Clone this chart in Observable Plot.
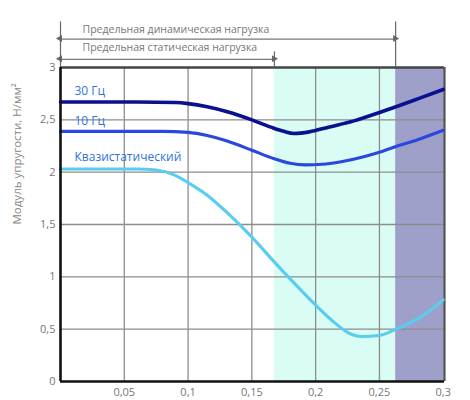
<!DOCTYPE html>
<html><head><meta charset="utf-8">
<script src="https://cdn.jsdelivr.net/npm/d3@7"></script>
<script src="https://cdn.jsdelivr.net/npm/@observablehq/plot@0.6"></script>
<style>body{margin:0;background:#fff;font-family:"Open Sans",sans-serif}</style>
</head><body><div id="chart"></div>
<script>
// data
const xQuasi = [0, 0.06, 0.075, 0.09, 0.1, 0.115, 0.13, 0.15, 0.167, 0.18, 0.2, 0.215, 0.225, 0.236, 0.25, 0.263, 0.283, 0.3];
const yQuasi = [2.03, 2.03, 2.02, 1.97, 1.90, 1.78, 1.62, 1.38, 1.15, 0.98, 0.73, 0.56, 0.47, 0.43, 0.44, 0.50, 0.62, 0.78];
const x10 = [0, 0.08, 0.1, 0.115, 0.13, 0.15, 0.167, 0.18, 0.192, 0.205, 0.22, 0.24, 0.25, 0.263, 0.28, 0.3];
const y10 = [2.39, 2.39, 2.38, 2.35, 2.30, 2.21, 2.13, 2.085, 2.07, 2.075, 2.10, 2.155, 2.19, 2.245, 2.31, 2.40];
const x30 = [0, 0.06, 0.09, 0.1, 0.115, 0.13, 0.15, 0.165, 0.175, 0.183, 0.195, 0.21, 0.23, 0.25, 0.263, 0.28, 0.3];
const y30 = [2.67, 2.67, 2.665, 2.655, 2.625, 2.58, 2.50, 2.43, 2.39, 2.37, 2.385, 2.43, 2.49, 2.57, 2.625, 2.70, 2.79];
const seriesNames = ["30 Гц", "10 Гц", "Квазистатический"];
const seriesColors = ["#0b1090", "#2b47de", "#58cdf0"];
const labelY = [2.77, 2.49, 2.145];
const staticLimit = 0.1677;
const dynamicLimit = 0.2627;
const xMax = 0.301;
const xTicks = [0.05, 0.1, 0.15, 0.2, 0.25, 0.3];
const yTicks = [0, 0.5, 1, 1.5, 2, 2.5, 3];
const annTexts = ["Предельная динамическая нагрузка", "Предельная статическая нагрузка"];
const yTitle = "Модуль упругости, Н/мм²";

// annotation layout levels (in y units above the frame)
const lvlTop = 3.435, lvlDynArrow = 3.272, lvlDynText = 3.36, lvlStatTop = 3.15, lvlStatArrow = 3.078, lvlStatText = 3.19;

const comma = d => String(d).replace(".", ",");
const toRows = (xs, ys, name) => xs.map((x, i) => ({x, y: ys[i], name}));
const lines = [toRows(x30, y30, seriesNames[0]), toRows(x10, y10, seriesNames[1]), toRows(xQuasi, yQuasi, seriesNames[2])];
const bands = [
  {x1: staticLimit, x2: dynamicLimit, fill: "#d9fcf5"},
  {x1: dynamicLimit, x2: xMax, fill: "#9fa0c9"}
];
const arrows = [
  {x1: 0, x2: dynamicLimit, y: lvlDynArrow},
  {x1: 0, x2: staticLimit, y: lvlStatArrow}
];
const heads = arrows.flatMap(a => [{x: a.x1, y: a.y, r: -90, dx: 3}, {x: a.x2, y: a.y, r: 90, dx: -3}]);
const vlines = [{x: 0, top: lvlTop}, {x: dynamicLimit, top: lvlTop}, {x: staticLimit, top: lvlStatTop}];
const texts = [{t: annTexts[0], y: lvlDynText}, {t: annTexts[1], y: lvlStatText}];

const chart = Plot.plot({
  width: 470, height: 400,
  marginLeft: 60, marginRight: 26, marginTop: 67, marginBottom: 19,
  style: {fontFamily: "Open Sans, sans-serif", fontSize: "11px", color: "#777", background: "#fff"},
  x: {domain: [0, xMax], ticks: xTicks, tickFormat: comma, tickSize: 0, tickPadding: 7, label: null},
  y: {domain: [0, 3], ticks: yTicks, tickFormat: comma, tickSize: 0, tickPadding: 5, label: null},
  marks: [
    Plot.rect(bands, {x1: "x1", x2: "x2", y1: 0, y2: 3, fill: "fill"}),
    Plot.ruleX(xTicks.slice(0, -1), {stroke: "#8d8d8d", strokeWidth: 1.3}),
    Plot.ruleY(yTicks.slice(1, -1), {stroke: "#8d8d8d", strokeWidth: 1.3}),
    Plot.ruleY([3], {stroke: "#444", strokeWidth: 2.4}),
    Plot.ruleX([xMax], {stroke: "#555", strokeWidth: 2.2}),
    Plot.ruleX(vlines, {x: "x", y1: 3, y2: "top", stroke: "#666", strokeWidth: 1.2, clip: false}),
    Plot.link(arrows, {x1: "x1", x2: "x2", y1: "y", y2: "y", stroke: "#777", strokeWidth: 1.2}),
    Plot.dot(heads, {x: "x", y: "y", rotate: "r", dx: "dx", symbol: "triangle", r: 2.6, fill: "#666", stroke: null}),
    Plot.text(texts, {x: 0, y: "y", text: "t", dx: 22, textAnchor: "start", fill: "#777", fontSize: 10.5}),
    ...lines.map((rows, i) => Plot.line(rows, {x: "x", y: "y", curve: "monotone-x", stroke: seriesColors[i], strokeWidth: i === 0 ? 3.6 : 3.1})),
    Plot.text(seriesNames, {x: 0, y: (d, i) => labelY[i], text: d => d, dx: 14, textAnchor: "start", fill: "#2f74da", fontSize: 12}),
    Plot.ruleX([0], {stroke: "#111", strokeWidth: 2.6}),
    Plot.ruleY([0], {stroke: "#111", strokeWidth: 2.6}),
    Plot.text([yTitle], {frameAnchor: "left", dx: -43, rotate: -90, fill: "#888", fontSize: 11.5})
  ]
});
document.getElementById("chart").append(chart);
</script></body></html>
